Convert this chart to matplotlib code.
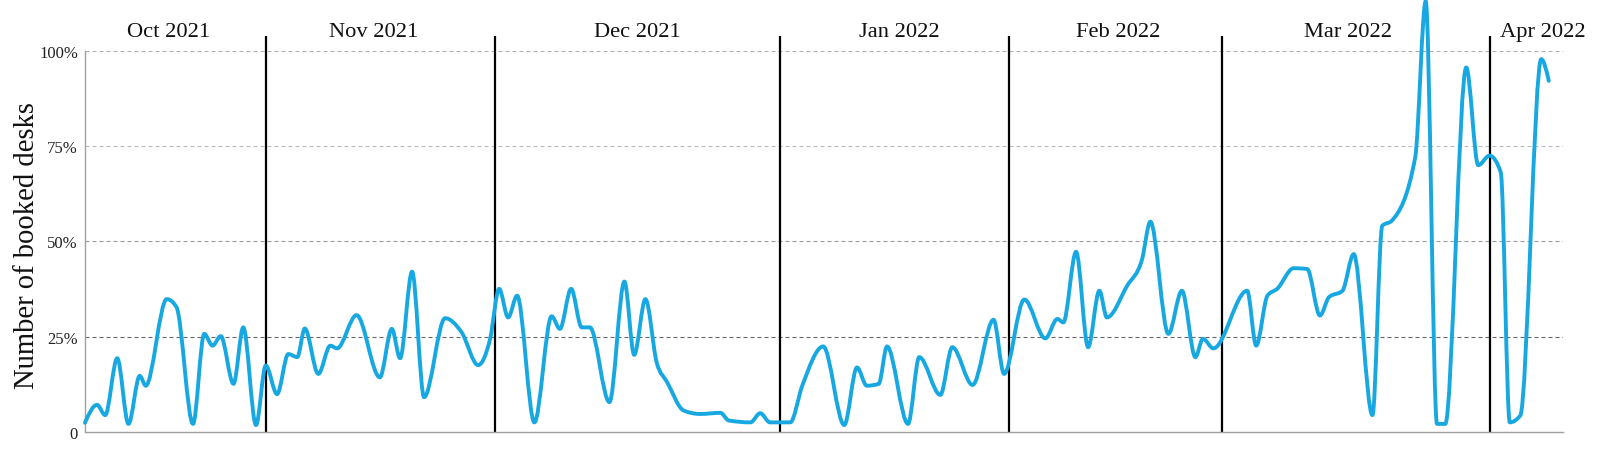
import matplotlib
matplotlib.use("Agg")
import matplotlib.pyplot as plt
import numpy as np
from matplotlib.path import Path
from matplotlib.patches import PathPatch

# timeline position of each reading (days along the chart's point scale) and share of booked desks (%)
day = [0.0, 1.6, 2.7, 4.3, 5.8, 7.3, 8.1, 10.9, 12.2, 14.4, 15.9, 17.0, 18.1, 19.8, 21.1, 22.8,
       24.1, 25.6, 27.1, 28.3, 29.3, 31.1, 32.7, 33.6, 36.2, 39.3, 40.9, 42.0, 43.6, 45.2, 48.0,
       50.2, 52.4, 54.0, 55.2, 56.4, 57.6, 59.9, 62.2, 63.3, 64.8, 66.2, 67.3, 69.9, 71.9, 73.2,
       74.7, 76.2, 77.6, 79.8, 82.0, 84.7, 85.8, 88.7, 90.0, 91.3, 94.0, 95.6, 98.4, 101.2, 102.9,
       104.2, 105.8, 106.9, 109.7, 111.2, 114.0, 115.6, 118.3, 121.1, 122.5, 125.2, 128.0, 129.6,
       130.4, 132.1, 133.7, 135.2, 136.2, 138.9, 140.9, 142.0, 144.4, 146.2, 148.0, 149.0, 150.4,
       154.9, 156.1, 157.6, 158.9, 161.1, 162.9, 164.6, 165.8, 167.6, 169.1, 171.6, 172.9, 174.2,
       177.3, 178.7, 180.2, 181.3, 184.1, 185.7, 187.2, 188.7, 189.9, 191.3, 194.1, 195.1]
booked = [2.5, 7.2, 4.5, 19.4, 2.2, 14.8, 12.2, 34.9, 32.8, 2.2, 25.8, 22.7, 25.2, 12.7, 27.5, 1.9,
          17.5, 10.0, 20.5, 19.7, 27.2, 15.3, 22.7, 22.0, 30.7, 14.4, 27.1, 19.4, 42.1, 9.2, 29.9,
          26.2, 17.6, 24.5, 37.6, 30.1, 35.8, 2.6, 30.4, 27.1, 37.6, 27.5, 27.5, 7.9, 39.5, 20.3,
          34.9, 18.3, 13.1, 5.7, 4.8, 5.1, 3.1, 2.6, 5.0, 2.6, 2.6, 12.2, 22.5, 1.9, 17.0,
          12.2, 12.7, 22.5, 2.2, 19.7, 9.8, 22.3, 12.4, 29.5, 15.3, 34.8, 24.6, 29.7,
          28.8, 47.3, 22.3, 37.1, 30.1, 38.4, 45.4, 55.2, 25.8, 37.1, 19.7, 24.5, 22.0,
          37.1, 22.7, 35.8, 37.6, 43.0, 42.8, 30.6, 35.4, 37.1, 46.7, 4.5, 54.1, 55.5,
          72.1, 113.0, 2.2, 2.2, 95.6, 70.0, 72.5, 68.1, 2.6, 4.4, 97.8, 92.1]

month_starts = [24.1, 54.7, 92.7, 123.2, 151.5, 187.2]
month_names = ["Oct 2021", "Nov 2021", "Dec 2021", "Jan 2022", "Feb 2022", "Mar 2022", "Apr 2022"]
label_pos = [11.2, 38.5, 73.6, 108.5, 137.7, 168.3, 194.3]

y_ticks = [0, 25, 50, 75, 100]
y_tick_labels = ["0", "25%", "50%", "75%", "100%"]

SERIF = ["Liberation Serif", "DejaVu Serif"]
plt.rcParams["font.family"] = SERIF


def monotone_path(xs, ys):
    # monotone-x cubic curve, same slope rule as d3.curveMonotoneX
    xs = np.asarray(xs, float)
    ys = np.asarray(ys, float)
    n = len(xs)
    h = np.diff(xs)
    s = np.diff(ys) / h
    t = np.zeros(n)
    for i in range(1, n - 1):
        h0, h1 = h[i - 1], h[i]
        s0, s1 = s[i - 1], s[i]
        p = (s0 * h1 + s1 * h0) / (h0 + h1)
        t[i] = (np.sign(s0) + np.sign(s1)) * min(abs(s0), abs(s1), 0.5 * abs(p))
    t[0] = (3 * s[0] - t[1]) / 2
    t[-1] = (3 * s[-1] - t[-2]) / 2
    verts = [(xs[0], ys[0])]
    codes = [Path.MOVETO]
    for i in range(n - 1):
        dx = (xs[i + 1] - xs[i]) / 3
        verts += [(xs[i] + dx, ys[i] + dx * t[i]),
                  (xs[i + 1] - dx, ys[i + 1] - dx * t[i + 1]),
                  (xs[i + 1], ys[i + 1])]
        codes += [Path.CURVE4] * 3
    return Path(verts, codes)


fig = plt.figure(figsize=(16, 4.52), dpi=100)
ax = fig.add_axes([0.0531, 0.0414, 0.9238, 0.8442])
ax.set_xlim(0, 197)
ax.set_ylim(0, 100)

# dashed grid (the 25% line renders darker in the original)
grid_colors = {25: "#666666", 50: "#9a9a9a", 75: "#bdbdbd", 100: "#b0b0b0"}
for v, c in grid_colors.items():
    ax.axhline(v, color=c, lw=0.8, ls=(0, (3.6, 2.7)), zorder=1)

# month separators
ax.vlines(month_starts, 0, 103.8, color="black", lw=1.6, clip_on=False, zorder=2)
for name, xp in zip(month_names, label_pos):
    ax.text(xp, 103.9, name, ha="center", va="baseline", fontsize=16.2, color="#111111")

curve = PathPatch(monotone_path(day, booked), fill=False, edgecolor="#17a8e2",
                  lw=2.8, capstyle="round", joinstyle="round", clip_on=False, zorder=3)
ax.add_patch(curve)

ax.set_xticks([])
ax.set_yticks(y_ticks)
ax.set_yticklabels(y_tick_labels, fontsize=12, color="#222222")
ax.tick_params(axis="y", length=0, pad=5)
for side in ["top", "right"]:
    ax.spines[side].set_visible(False)
for side in ["left", "bottom"]:
    ax.spines[side].set_color("#a0a0a0")
    ax.spines[side].set_linewidth(1.0)

fig.text(27 / 1600, 1 - 246 / 452, "Number of booked desks", rotation=90,
         ha="center", va="center", fontsize=20.6, color="#111111")

fig.savefig("out.png", dpi=100, facecolor="white")
